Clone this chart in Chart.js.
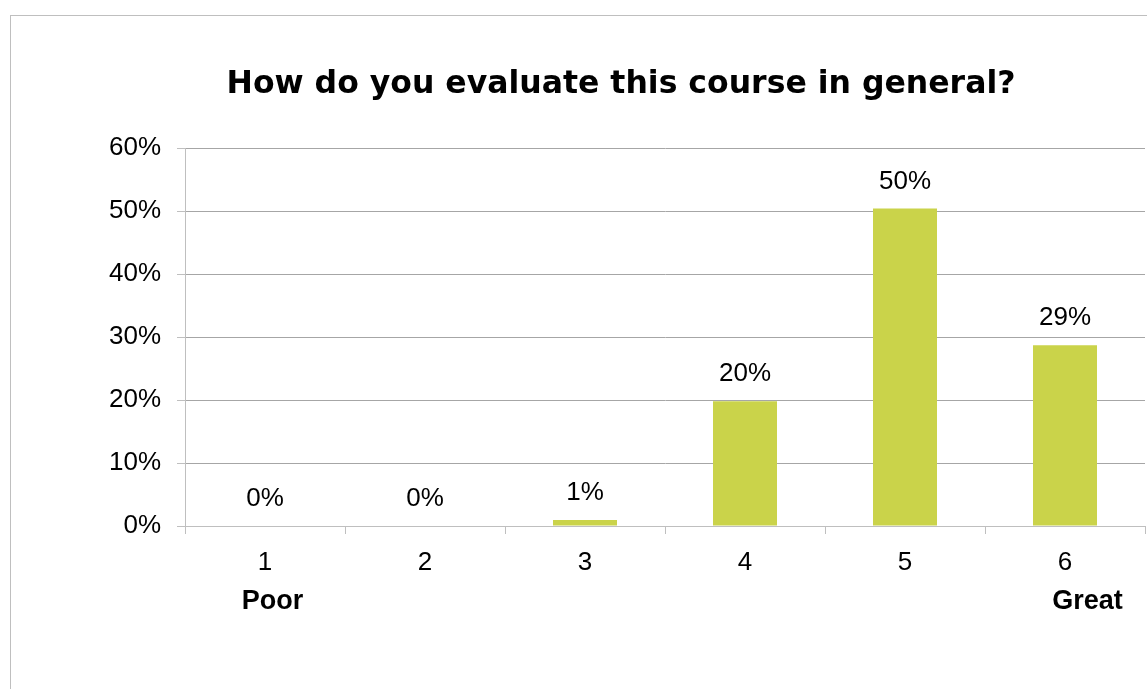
<!DOCTYPE html>
<html>
<head>
<meta charset="utf-8">
<title>Course evaluation</title>
<script src="https://cdn.jsdelivr.net/npm/chart.js@4/dist/chart.umd.min.js"></script>
<style>
  html, body { margin: 0; padding: 0; background: #fff; overflow: hidden; width: 1147px; height: 689px; }
  #frame { position: absolute; left: 10px; top: 15px; width: 1200px; height: 700px; border: 1px solid #bfbfbf; }
  #wrap { position: absolute; left: 0; top: 0; width: 1147px; height: 689px; }
</style>
</head>
<body>
<div id="frame"></div>
<div id="wrap"><canvas id="chart"></canvas></div>
<script>
// rating scale 1..6, share of answers in percent
const ratings = ['1', '2', '3', '4', '5', '6'];
const ends = ['  Poor', '', '', '', '', '      Great'];
const shares = [0, 0, 0.95, 19.8, 50.4, 28.7];
const yTicks = [0, 10, 20, 30, 40, 50, 60];

const BAR = '#cad34a';
const GRID = '#a6a6a6';
const AXIS = '#bfbfbf';
const SANS = "'Liberation Sans', Arial, sans-serif";

// percentage label above each bar
const valueLabels = {
  id: 'valueLabels',
  afterDatasetsDraw(chart) {
    const ctx = chart.ctx;
    const meta = chart.getDatasetMeta(0);
    ctx.save();
    ctx.font = '26px ' + SANS;
    ctx.fillStyle = '#000';
    ctx.textAlign = 'center';
    ctx.textBaseline = 'middle';
    meta.data.forEach((bar, i) => {
      ctx.fillText(Math.round(shares[i]) + '%', bar.x, bar.y - 27);
    });
    ctx.restore();
  }
};

new Chart(document.getElementById('chart'), {
  type: 'bar',
  data: {
    labels: ratings,
    datasets: [{
      data: shares,
      backgroundColor: BAR,
      borderWidth: 0,
      categoryPercentage: 1,
      barPercentage: 0.4
    }]
  },
  options: {
    responsive: true,
    maintainAspectRatio: false,
    animation: false,
    // left padding pushes the title centre right; y axis width makes up the rest
    layout: { padding: { left: 97, right: 2, top: 0, bottom: 0 } },
    plugins: {
      legend: { display: false },
      tooltip: { enabled: false },
      title: {
        display: true,
        text: 'How do you evaluate this course in general?',
        color: '#000',
        font: { family: "'DejaVu Sans', Verdana, sans-serif", size: 31.5, weight: 'bold', lineHeight: 1.2 },
        padding: { top: 66, bottom: 44.2 }
      }
    },
    scales: {
      y: {
        min: 0,
        max: 60,
        afterBuildTicks: s => { s.ticks = yTicks.map(v => ({ value: v })); },
        afterFit: s => { s.width = 88; },
        ticks: {
          color: '#000',
          padding: 16,
          font: { family: SANS, size: 26 },
          callback: v => v + '%'
        },
        grid: { color: GRID, tickLength: 8, tickColor: AXIS },
        border: { color: AXIS }
      },
      x: {
        offset: true,
        afterFit: s => { s.height = 52.2; },
        ticks: { color: '#000', padding: 13, font: { family: SANS, size: 26 } },
        grid: { offset: true, drawOnChartArea: false, tickLength: 8, color: AXIS },
        border: { color: AXIS }
      },
      x2: {
        axis: 'x',
        type: 'category',
        position: 'bottom',
        labels: ends,
        offset: true,
        afterFit: s => { s.height = 110.8; },
        ticks: { color: '#000', padding: 7.6, autoSkip: false, font: { family: SANS, size: 27, weight: 'bold' } },
        grid: { display: false, drawTicks: false },
        border: { display: false }
      }
    }
  },
  plugins: [valueLabels]
});
</script>
</body>
</html>
